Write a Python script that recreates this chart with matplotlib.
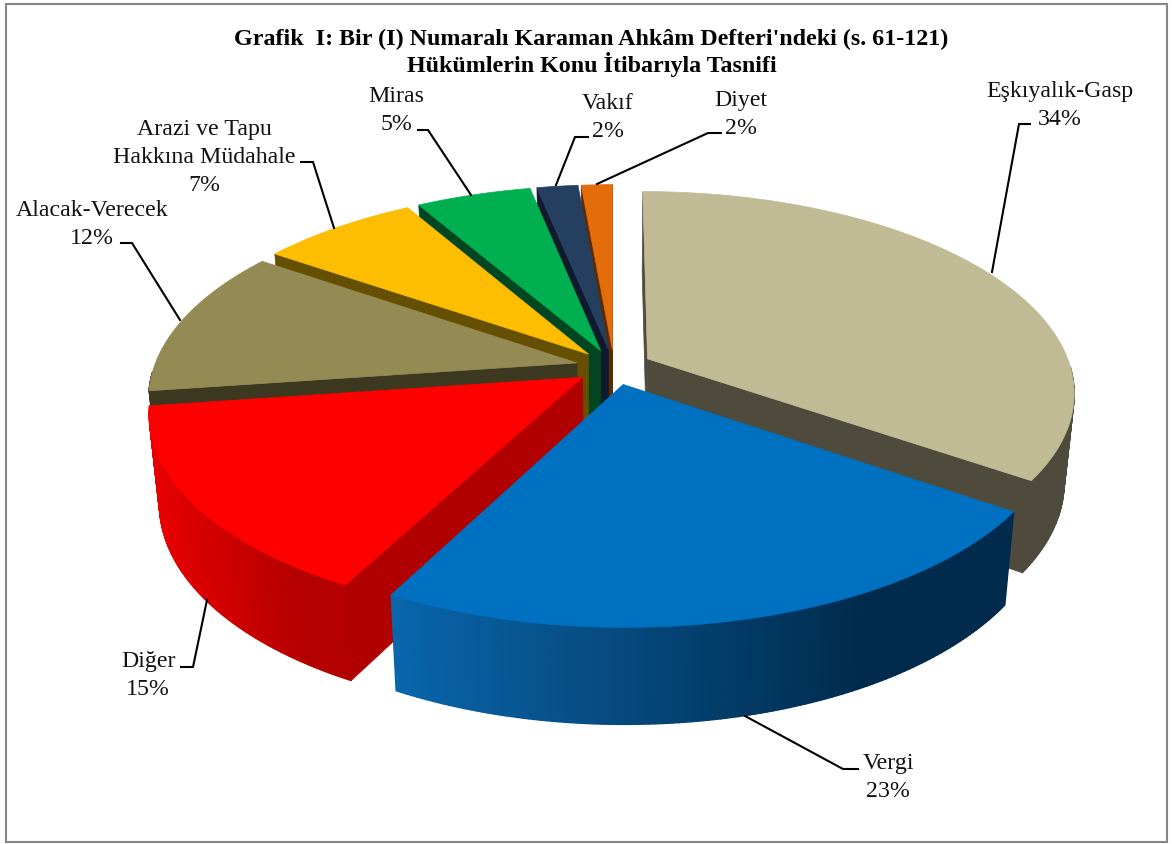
import numpy as np
import matplotlib
matplotlib.use("Agg")
import matplotlib.pyplot as plt
from matplotlib.collections import PolyCollection
from matplotlib.colors import to_rgb
from matplotlib.patches import Rectangle, Polygon

plt.rcParams["font.family"] = ["Liberation Serif", "DejaVu Serif"]

label_lines = [["Eşkıyalık-Gasp"], ["Vergi"], ["Diğer"], ["Alacak-Verecek"],
               ["Arazi ve Tapu", "Hakkına Müdahale"], ["Miras"], ["Vakıf"], ["Diyet"]]
percents = [34, 23, 15, 12, 7, 5, 2, 2]
values = [34.64, 23.05, 15.09, 11.82, 7.05, 5.13, 1.83, 1.39]
top_colors = ["#C0BA95", "#0070C0", "#FF0000", "#948A54", "#FDBD00", "#00B050", "#243F60", "#E46C0A"]
wall_left = ["#4F4B3C", "#0A66AC", "#E80000", "#3D3820", "#654F00", "#004620", "#101A2E", "#5B2B04"]
wall_right = ["#4F4B3C", "#002B4D", "#B40000", "#3D3820", "#654F00", "#004620", "#101A2E", "#5B2B04"]
face_colors = ["#4F4B3C", "#002B4D", "#B00000", "#3D3820", "#654F00", "#004620", "#101A2E", "#5B2B04"]
# back to front
draw_order = [7, 6, 5, 4, 3, 0, 2, 1]

# x centre and baseline of the first text line
label_xy = [(1060, 97), (888, 769), (148, 667), (92, 216), (204, 135), (396, 102), (608, 109), (741, 106)]
leaders = [
    [(1030, 124), (1019, 124), (992, 272)],
    [(858, 769), (843, 769), (745, 716)],
    [(181, 667), (193, 667), (207, 600)],
    [(121, 243), (132, 243), (180, 320)],
    [(301, 162), (313, 162), (334, 228)],
    [(418, 130), (428, 130), (471, 195)],
    [(588, 137), (575, 137), (556, 185)],
    [(721, 133), (708, 133), (597, 184)],
]

CX, CY = 614, 367
RU, RV = 423, 197
PERSP = 0.163
EXPLODE = 0.09
DEPTH = 88
SHRINK = 0.978
LINE_STEP = 28


def project(u, v, bottom=False):
    s = 1 / (1 + PERSP * v)
    x = CX + u * RU * s
    y = CY - v * RV * s
    if bottom:
        x = CX + (x - CX) * SHRINK
        y = y + DEPTH * np.sqrt(s)
    return x, y


def area(pts):
    p = np.array(pts)
    return 0.5 * np.sum(p[:, 0] * np.roll(p[:, 1], -1) - np.roll(p[:, 0], -1) * p[:, 1])


fig = plt.figure(figsize=(11.72, 8.44), dpi=100)
ax = fig.add_axes([0, 0, 1, 1])
ax.set_xlim(0, 1172)
ax.set_ylim(844, 0)
ax.axis("off")

ax.add_patch(Rectangle((5.5, 3.5), 1161, 838, fill=False, edgecolor="#868686", linewidth=1.5))

edges = np.cumsum(np.r_[0, values])
edges = np.radians(edges / edges[-1] * 360)

for i in draw_order:
    t0, t1 = edges[i], edges[i + 1]
    mid = (t0 + t1) / 2
    ou, ov = EXPLODE * np.sin(mid), EXPLODE * np.cos(mid)
    th = np.linspace(t0, t1, 121)
    us, vs = ou + np.sin(th), ov + np.cos(th)

    # cut faces
    ax_top = project(ou, ov)
    ax_bot = project(ou, ov, True)
    for u, v, sign in [(us[0], vs[0], -1), (us[-1], vs[-1], 1)]:
        quad = [ax_top, project(u, v), project(u, v, True), ax_bot]
        if sign * area(quad) > 0:
            ax.add_patch(Polygon(quad, closed=True, facecolor=face_colors[i],
                                 edgecolor=face_colors[i], linewidth=0.5))

    # outer wall, shaded along the arc
    quads, cols = [], []
    c_l, c_r = np.array(to_rgb(wall_left[i])), np.array(to_rgb(wall_right[i]))
    xs_all = project(us, vs)[0]
    for k in range(len(th) - 1):
        if np.cos(th[k]) > -0.05 and np.cos(th[k + 1]) > -0.05:
            continue
        quads.append([project(us[k], vs[k]), project(us[k + 1], vs[k + 1]),
                      project(us[k + 1], vs[k + 1], True), project(us[k], vs[k], True)])
        f = (xs_all[k] - xs_all.min()) / (xs_all.max() - xs_all.min())
        cols.append(c_l + (c_r - c_l) * min(f * 1.3, 1))
    if quads:
        ax.add_collection(PolyCollection(quads, facecolors=cols, edgecolors=cols, linewidths=1.0))

    # top
    xs, ys = project(us, vs)
    pts = np.column_stack([np.r_[ax_top[0], xs], np.r_[ax_top[1], ys]])
    ax.add_patch(Polygon(pts, closed=True, facecolor=top_colors[i],
                         edgecolor=top_colors[i], linewidth=0.5))

for lines, val, (x, y), line in zip(label_lines, percents, label_xy, leaders):
    for n, txt in enumerate(lines + [f"{val}%"]):
        ax.text(x, y + n * LINE_STEP, txt, ha="center", va="baseline", fontsize=17.2, color="#111111")
    ax.plot(*zip(*line), color="black", linewidth=1.5, solid_joinstyle="miter")

ax.text(591.5, 45, "Grafik  I: Bir (I) Numaralı Karaman Ahkâm Defteri'ndeki (s. 61-121)",
        ha="center", va="baseline", fontsize=17.3, fontweight="bold", color="black")
ax.text(591.5, 72, "Hükümlerin Konu İtibarıyla Tasnifi",
        ha="center", va="baseline", fontsize=17.3, fontweight="bold", color="black")

fig.savefig("out.png", dpi=100)
